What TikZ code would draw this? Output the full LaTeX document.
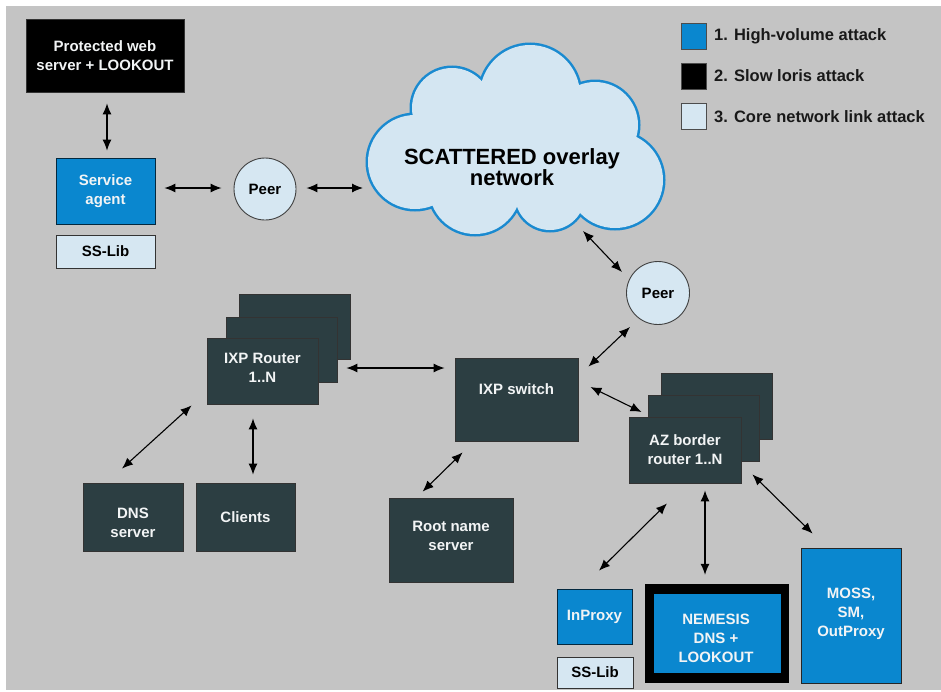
\documentclass[tikz,border=0pt]{standalone}
\usepackage{fontspec}
\setmainfont{Liberation Sans}
\usetikzlibrary{arrows.meta,calc}
\definecolor{bg}{HTML}{C4C4C4}
\definecolor{hblue}{HTML}{0A87CF}
\definecolor{darkfill}{HTML}{2C3E42}
\definecolor{lightfill}{HTML}{D6E7F2}
\definecolor{cloudline}{HTML}{1A8AD0}
\definecolor{cloudfill}{HTML}{D4E6F2}
\definecolor{wtext}{HTML}{F2F4F5}
\begin{document}
\begin{tikzpicture}[x=1pt,y=-1pt,
  box/.style={draw=black!80, line width=0.8pt, rectangle, inner sep=0pt, align=center,
    font=\fontsize{15}{19}\selectfont\bfseries},
  darkbox/.style={box, fill=darkfill, text=wtext},
  bluebox/.style={box, fill=hblue, text=wtext, draw=black!70!hblue},
  lightbox/.style={box, fill=lightfill, text=black},
  boxtxt/.style={align=center, inner sep=0pt, text=wtext, font=\fontsize{15}{19}\selectfont\bfseries},
  peerc/.style={circle, draw=black!75, line width=0.9pt, fill=lightfill, inner sep=0pt,
    font=\fontsize{15}{19}\selectfont\bfseries},
  legsq/.style={rectangle, draw=black!70, line width=0.8pt, minimum width=25pt, minimum height=26pt, inner sep=0pt},
  legtxt/.style={anchor=west, inner sep=0pt, font=\fontsize{16.5}{20}\selectfont\bfseries, text=black!90},
  arr/.style={line width=1.1pt, {Latex[length=11pt,width=9pt]}-{Latex[length=11pt,width=9pt]}},
]
% canvas
\useasboundingbox (0,0) rectangle (941,691);
\fill[white] (0,0) rectangle (941,691);
\fill[bg] (6,6) rectangle (941,690);

% cloud
\draw[cloudline, line width=5pt]
  (415,162) circle[radius=47pt]
  (452,108) circle[radius=40pt]
  (530,95) circle[radius=50pt]
  (595,125) circle[radius=43pt]
  (615,180) circle[radius=48pt]
  (550,195) circle[radius=35pt]
  (475,188) circle[radius=46pt];
\fill[cloudfill]
  (415,162) circle[radius=47pt]
  (452,108) circle[radius=40pt]
  (530,95) circle[radius=50pt]
  (595,125) circle[radius=43pt]
  (615,180) circle[radius=48pt]
  (550,195) circle[radius=35pt]
  (475,188) circle[radius=46pt]
  (515,150) ellipse[x radius=100pt, y radius=55pt];
\node[align=center, inner sep=0pt, font=\fontsize{22}{21}\selectfont\bfseries] (cloudtxt) at (512,167.5) {SCATTERED overlay\\network};
\coordinate (cloudW) at (363,188);
\coordinate (cloudS) at (583,231);

% top-left group
\node[box, fill=black, text=wtext, minimum width=158pt, minimum height=73pt] (prot) at (105,55.5) {Protected web\\server + LOOKOUT};
\node[bluebox, minimum width=99pt, minimum height=66pt] (agent) at (105.5,191) {Service\\agent};
\node[lightbox, minimum width=99pt, minimum height=33pt] (sslib1) at (105.5,251.5) {SS-Lib};
\node[peerc, minimum size=62pt] (peer1) at (265,189) {Peer};
\node[peerc, minimum size=63pt] (peer2) at (658,293) {Peer};

% IXP router stack
\node[darkbox, minimum width=111pt, minimum height=65pt] (routerB) at (294.5,326.5) {};
\node[darkbox, minimum width=111pt, minimum height=65pt] (routerM) at (281.5,349.5) {};
\node[darkbox, minimum width=111pt, minimum height=66pt] (routerF) at (262.5,371) {};
\node[boxtxt] (routerT) at ($(routerF.center)+(0,-3.5)$) {IXP Router\\1..N};

% IXP switch
\node[darkbox, minimum width=123pt, minimum height=83pt] (switch) at (516.5,399.5) {};
\node[boxtxt] (switchT) at ($(switch.center)+(0,-10.5)$) {IXP switch};

% AZ border router stack
\node[darkbox, minimum width=111pt, minimum height=66pt] (azB) at (716.5,406) {};
\node[darkbox, minimum width=111pt, minimum height=66pt] (azM) at (703.5,428) {};
\node[darkbox, minimum width=112pt, minimum height=66pt] (azF) at (685,450) {AZ border\\router 1..N};

% bottom-left boxes
\node[darkbox, minimum width=100pt, minimum height=68pt] (dns) at (133,517) {};
\node[boxtxt] (dnsT) at ($(dns.center)+(0,6)$) {DNS\\server};
\node[darkbox, minimum width=99pt, minimum height=68pt] (clients) at (245.5,517) {Clients};
\node[darkbox, minimum width=124pt, minimum height=84pt] (root) at (451,540) {};
\node[boxtxt] (rootT) at ($(root.center)+(0,-4.5)$) {Root name\\server};

% bottom-right boxes
\node[bluebox, minimum width=75pt, minimum height=55pt] (inproxy) at (594.5,616.5) {InProxy};
\node[lightbox, minimum width=76pt, minimum height=31pt] (sslib2) at (595,672.5) {SS-Lib};
\node[rectangle, fill=black, draw=black, minimum width=143pt, minimum height=98pt, inner sep=0pt] (nemO) at (716.5,633) {};
\node[bluebox, draw=black, minimum width=128pt, minimum height=80pt] (nemI) at (717,633) {};
\node[boxtxt] (nemT) at ($(nemI.center)+(-1,5.5)$) {NEMESIS\\DNS +\\LOOKOUT};
\node[bluebox, draw=black!85, minimum width=100pt, minimum height=135pt] (moss) at (851,615.5) {};
\node[boxtxt] (mossT) at ($(moss.center)+(0,-2)$) {MOSS,\\SM,\\OutProxy};

% legend
\node[legsq, fill=hblue] (leg1) at (693.5,36) {};
\node[legsq, fill=black] (leg2) at (693.5,76) {};
\node[legsq, fill=lightfill] (leg3) at (693.5,116.5) {};
\node[legtxt] (leg1t) at (714,36) {1. High-volume attack};
\node[legtxt] (leg2t) at (714,76) {2. Slow loris attack};
\node[legtxt] (leg3t) at (714,116.5) {3. Core network link attack};

% connectors
\draw[arr] ($(prot.south)+(2,11)$) -- ($(agent.north)+(1.5,-7)$);
\draw[arr] ($(agent.east)+(9,-3)$) -- ($(peer1.west)+(-12,-1)$);
\draw[arr] ($(peer1.east)+(10,-1)$) -- (cloudW);
\draw[arr] (cloudS) -- ($(peer2.north west)+(-13.4,1.6)$);
\draw[arr] ($(peer2.south west)+(-5.4,11.4)$) -- ($(switch.north east)+(10,9)$);
\draw[arr] ($(switch.east)+(12,-12.5)$) -- ($(azM.west)+(-6,-16)$);
\draw[arr] ($(routerM.east)+(9,18.5)$) -- ($(switch.west)+(-10,-31.5)$);
\draw[arr] ($(routerF.south west)+(-15,1)$) -- ($(dns.north)+(-11,-14)$);
\draw[arr] ($(routerF.south)+(-9.5,14)$) -- ($(clients.north)+(7.5,-8)$);
\draw[arr] ($(switch.south west)+(8,11)$) -- ($(root.north west)+(34,-6)$);
\draw[arr] ($(azF.south)+(-18,20)$) -- ($(inproxy.north)+(4.5,-18)$);
\draw[arr] ($(azF.south)+(20,7)$) -- ($(nemO.north)+(-11.5,-9)$);
\draw[arr] ($(azF.south east)+(11,-9)$) -- ($(moss.north west)+(12,-14)$);
\end{tikzpicture}
\end{document}
